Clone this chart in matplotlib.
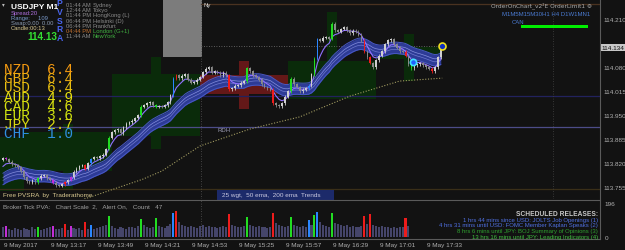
import matplotlib
matplotlib.use("Agg")
import matplotlib.pyplot as plt
import numpy as np
from matplotlib.patches import Rectangle

# ---------------- data ----------------
bar_minutes = 2
first_open = 113.829
closes = [
    113.833, 113.831, 113.823, 113.817, 113.814, 113.809, 113.798, 113.782, 113.771, 113.766,
    113.774, 113.768, 113.779, 113.785, 113.787, 113.779, 113.774, 113.766, 113.760, 113.758,
    113.763, 113.768, 113.774, 113.782, 113.796, 113.804, 113.812, 113.814, 113.804, 113.820,
    113.831, 113.836, 113.833, 113.839, 113.842, 113.858, 113.888, 113.904, 113.909, 113.912,
    113.901, 113.917, 113.926, 113.931, 113.934, 113.942, 113.950, 113.972, 113.977, 113.982,
    113.985, 113.977, 113.972, 113.974, 113.972, 113.977, 113.985, 114.004, 114.048, 114.058,
    114.050, 114.056, 114.061, 114.045, 114.037, 114.039, 114.045, 114.053, 114.066, 114.075,
    114.080, 114.064, 114.069, 114.064, 114.058, 114.064, 114.058, 114.020, 114.023, 114.029,
    114.031, 114.037, 114.042, 114.077, 114.069, 114.058, 114.053, 114.045, 114.034, 114.026,
    114.023, 114.018, 113.982, 113.977, 113.974, 113.982, 113.999, 114.015, 114.048, 114.034,
    114.026, 114.015, 114.018, 114.023, 114.029, 114.061, 114.102, 114.156, 114.151, 114.159,
    114.161, 114.156, 114.197, 114.180, 114.175, 114.183, 114.188, 114.180, 114.172, 114.178,
    114.175, 114.167, 114.151, 114.121, 114.107, 114.091, 114.080, 114.099, 114.110, 114.123,
    114.142, 114.153, 114.156, 114.142, 114.132, 114.123, 114.121, 114.110, 114.088, 114.077,
    114.085, 114.088, 114.091, 114.085, 114.080, 114.075, 114.069, 114.080, 114.107, 114.134,
]
# PVSRA special candles: index -> kind (g=bull climax, r=bear climax, b=bull rising, m=bear rising)
special = {1: 'm', 12: 'g', 17: 'm', 21: 'r', 23: 'm', 28: 'r', 30: 'b', 36: 'g', 47: 'g',
           52: 'g', 58: 'b', 59: 'r', 77: 'r', 83: 'g', 92: 'r', 98: 'g', 104: 'b', 106: 'g',
           107: 'b', 112: 'g', 123: 'r', 125: 'r', 137: 'r', 139: 'g', 146: 'r'}
volumes = [58, 64, 48, 40, 52, 45, 38, 50, 44, 42,
           55, 47, 60, 40, 46, 52, 58, 62, 48, 44,
           50, 75, 42, 66, 50, 45, 52, 40, 88, 46,
           70, 44, 50, 56, 62, 72, 120, 64, 50, 48,
           58, 52, 46, 60, 55, 50, 62, 105, 70, 58,
           52, 60, 112, 66, 56, 50, 62, 74, 140, 150,
           84, 70, 64, 58, 66, 60, 54, 62, 70, 58,
           64, 56, 60, 52, 58, 62, 56, 130, 70, 64,
           58, 60, 66, 118, 70, 62, 58, 64, 56, 60,
           52, 58, 136, 80, 70, 64, 58, 62, 115, 70,
           64, 58, 66, 60, 100, 72, 128, 145, 84, 70,
           64, 60, 140, 80, 74, 68, 62, 70, 58, 64,
           60, 58, 66, 120, 74, 132, 70, 64, 58, 62,
           56, 60, 54, 58, 52, 60, 56, 110, 62]
band_seed, fast_seed = 113.771, 113.800
ema200_t = [50, 61, 95, 108, 134, 168, 202, 236, 270, 299]
ema200_p = [113.716, 113.730, 113.776, 113.798, 113.866, 113.912, 113.945, 114.001, 114.042, 114.050]
# higher-timeframe (H1) candle overlay
htf_start = [-44, 14.3, 74.2, 134.1, 194.0, 254.0]
htf_end = [14.3, 74.2, 134.1, 194.0, 254.0, 299.0]
htf_open = [113.744, 113.798, 113.893, 114.058, 113.993, 114.102]
htf_close = [113.890, 113.904, 114.061, 114.007, 114.096, 114.134]
htf_high = [113.890, 113.926, 114.107, 114.096, 114.229, 114.169]
htf_low = [113.744, 113.750, 113.858, 113.966, 113.993, 114.042]
hlines = [(114.001, '#22225e'), (113.917, '#4c4c88'), (113.749, '#3a2f18')]
price_ticks = [114.210, 114.145, 114.080, 114.015, 113.950, 113.885, 113.820, 113.755]
current_price = 114.134
time_ticks = [0, 32, 64, 96, 128, 160, 192, 224, 256, 288]
time_labels = ["9 May 2017", "9 May 13:17", "9 May 13:49", "9 May 14:21", "9 May 14:53",
               "9 May 15:25", "9 May 15:57", "9 May 16:29", "9 May 17:01", "9 May 17:33"]
strength_ccy = ["NZD", "GBP", "USD", "AUD", "CAD", "EUR", "JPY", "CHF"]
strength_val = ["6.4", "6.4", "6.4", "4.9", "4.6", "3.6", "2.7", "1.0"]
strength_col = ["#f59a10", "#eeae10", "#e8c010", "#e6e010", "#d6e010", "#cce010", "#d8d810", "#2f8fe0"]
sessions = [("01:44 AM", "Sydney"), ("12:44 AM", "Tokyo"), ("01:44 PM", "HongKong (L)"),
            ("06:44 PM", "Helsinki (D)"), ("06:44 PM", "Frankfurt"), ("04:44 PM", "London (G+1)"),
            ("11:44 AM", "NewYork")]
releases = ["1 hrs 44 mins since USD: JOLTS Job Openings (1)",
            "4 hrs 31 mins until USD: FOMC Member Kaplan Speaks (2)",
            "8 hrs 6 mins until JPY: BOJ Summary of Opinions (3)",
            "13 hrs 16 mins until JPY: Leading Indicators (4)"]
release_col = ["#4f6fe0", "#4f6fe0", "#2fa02f", "#3fbf3f"]

# ---------------- style ----------------
BG = '#121212'
W, H = 625, 251
FONT = 'Liberation Sans'
kind_col = {'g': '#22dd22', 'r': '#ee1c1c', 'b': '#2a86ff', 'm': '#c22ed8'}

def fx(x):
    return x / W

def fy(y):
    return 1 - y / H

def ema(vals, span, seed):
    a = 2.0 / (span + 1)
    e = seed
    out = []
    for v in vals:
        e = a * v + (1 - a) * e
        out.append(e)
    return np.array(out)

n = len(closes)
t = np.arange(n) * bar_minutes
c = np.array(closes)
o = np.concatenate([[first_open], c[:-1]])

fig = plt.figure(figsize=(6.25, 2.51), dpi=100, facecolor=BG)
ax = fig.add_axes([0, 51 / H, 600 / W, 200 / H])
ax.set_facecolor(BG)
xlim = (-2.04, 406.4)
ax.set_xlim(*xlim)
ax.set_ylim(113.7226, 114.2643)
for s in ax.spines.values():
    s.set_visible(False)
ax.set_xticks([]); ax.set_yticks([])

# HTF candles
for ts, te, op, cl, hh, ll in zip(htf_start, htf_end, htf_open, htf_close, htf_high, htf_low):
    col = '#0a2b0a' if cl >= op else '#641818'
    ax.add_patch(Rectangle((ts, min(op, cl)), te - ts, abs(cl - op), color=col, lw=0, zorder=1))
    mid = (ts + te) / 2
    ax.add_patch(Rectangle((mid - 3.5, ll), 7, hh - ll, color=col, lw=0, zorder=1))

# gray session box
ax.add_patch(Rectangle((108.9, 114.107), 26.6, 0.2, color='#7c7c7c', lw=0, zorder=1.2))
for p, col in hlines:
    ax.axhline(p, color=col, lw=0.9, zorder=1.5)
ax.plot([135, 406], [114.251, 114.251], color='#4a3220', lw=0.9, zorder=1.5)
ax.plot([135, 298], [current_price + 0.003] * 2, color='#777777', lw=0.6, ls=(0, (1, 2)), zorder=1.5)
ax.axvline(134.8, color='#555555', lw=0.6, ls=(0, (1, 2)), zorder=1.5)
ax.axvline(374.4, color='#444444', lw=0.6, ls=(0, (1, 2)), zorder=1.5)

# 200 ema dotted
ax.plot(ema200_t, ema200_p, color='#a09a60', lw=0.8, ls=(0, (1, 1.5)), zorder=2)

# band
band = ema(closes, 20, band_seed)
fast = ema(closes, 5, fast_seed)
bw = 0.0155
ax.fill_between(t, band - bw, band + bw, color='#2d3b96', lw=0, zorder=2.2)
ax.plot(t, band + bw, color='#4858c4', lw=0.7, zorder=2.3)
ax.plot(t, band - bw, color='#4858c4', lw=0.7, zorder=2.3)
ax.plot(t, band + 0.004, color='#9aa2ee', lw=0.5, zorder=2.3, alpha=0.8)
ax.plot(t, band - 0.004, color='#7f88dd', lw=0.5, zorder=2.3, alpha=0.8)
ax.plot(t, fast, color='#9070ff', lw=0.8, zorder=2.4)

# candles
cols = []
for i in range(n):
    if i in special:
        cols.append(kind_col[special[i]])
    else:
        cols.append('#cfcfcf' if c[i] >= o[i] else '#8a8a8a')
hi = np.maximum(o, c) + 0.004
lo = np.minimum(o, c) - 0.004
ax.vlines(t, lo, hi, colors=cols, lw=0.6, zorder=3)
body = np.where(np.abs(c - o) < 0.0015, 0.0015, c - o)
ax.bar(t, body, bottom=o, width=1.1, color=cols, lw=0, zorder=3.1)

# markers
ax.plot([279], [114.094], 'o', ms=4.5, mfc='#2060ff', mec='#40e0ff', mew=1.2, zorder=4)
ax.plot([298.8], [114.137], 'o', ms=5, mfc='#1030c0', mec='#f0e020', mew=1.2, zorder=4)

# volume panel
vax = fig.add_axes([0, 11 / H, 600 / W, 39 / H])
vax.set_facecolor(BG)
vax.set_xlim(*xlim)
vax.set_ylim(-11.5, 213.3)
for s in vax.spines.values():
    s.set_visible(False)
vax.set_xticks([]); vax.set_yticks([])
nv = len(volumes)
vcols = [kind_col[special[i]] if i in special else '#45456a' for i in range(nv)]
vax.bar(t[:nv], volumes, width=1.4, color=vcols, lw=0, zorder=2)
vax.axvline(134.8, color='#555555', lw=0.6, ls=(0, (1, 2)), zorder=1)

# frame lines (figure pixel coords)
def fline(x0, y0, x1, y1, col='#5a5a5a', lw=0.8):
    fig.add_artist(plt.Line2D([fx(x0), fx(x1)], [fy(y0), fy(y1)], color=col, lw=lw))

fline(600, 0, 600, 240)
fline(0, 200.5, 600, 200.5)
fline(0, 240, 600, 240)

# right axis labels
for p in price_ticks:
    if abs(p - current_price) < 0.02:
        continue
    ax.text(1.005, (p - 113.7226) / (114.2643 - 113.7226), f"{p:.3f}", transform=ax.transAxes,
            color='#b0b0b0', fontsize=4.6, family=FONT, va='center', ha='left')
yb = (current_price - 113.7226) / (114.2643 - 113.7226)
ax.text(1.003, yb, f"{current_price:.3f}", transform=ax.transAxes, color='#101010', fontsize=4.6,
        family=FONT, va='center', ha='left',
        bbox=dict(boxstyle='square,pad=0.15', fc='#c8c8c8', ec='none'))
vax.text(1.008, 196, "196", transform=vax.get_yaxis_transform(), color='#b0b0b0', fontsize=4.6,
         family=FONT, va='center')
vax.text(1.008, 0, "0", transform=vax.get_yaxis_transform(), color='#b0b0b0', fontsize=4.6,
         family=FONT, va='center')

# time labels
for tt, lab in zip(time_ticks, time_labels):
    x = (tt - xlim[0]) / (xlim[1] - xlim[0]) * 600
    fig.text(fx(x + 1), fy(245.5), lab, color='#b0b0b0', fontsize=4.6, family=FONT, va='center')

# top-left info
fig.text(fx(2), fy(5), "\u25BE", color='#bbbbbb', fontsize=4, va='center')
fig.text(fx(11), fy(7.5), "USDJPY M1", color='white', fontsize=6.0, weight='bold', family=FONT, va='center')
fig.text(fx(11), fy(13.5), "Spread:20", color='#b070e0', fontsize=4.2, family=FONT, va='center')
fig.text(fx(11), fy(18.5), "Range:     109", color='#7a9acc', fontsize=4.2, family=FONT, va='center')
fig.text(fx(11), fy(23.5), "Swap:0.00  0.00", color='#8a9ab0', fontsize=4.2, family=FONT, va='center')
fig.text(fx(11), fy(28.5), "Candle:00:13", color='#d8c890', fontsize=4.2, family=FONT, va='center')
fig.text(fx(27), fy(37.5), "114.13", color='#33dd33', fontsize=7.2, weight='bold', family=FONT, va='center')
fig.text(fx(59.5), fy(21), "P\nV\nS\nR\nA", color='#4a66f0', fontsize=6.2, weight='bold',
         family=FONT, va='center', ha='center', linespacing=0.95)
for k, (tm, city) in enumerate(sessions):
    y = 5.5 + k * 5.2
    tcol = '#c07030' if city.startswith('London') else '#8a8a8a'
    ccol = '#40b040' if k >= 5 else '#8a8a8a'
    tx = fig.text(fx(66), fy(y), tm, color=tcol, fontsize=4.2, family=FONT, va='center')
    ax.annotate(city, xy=(1, 0.5), xycoords=tx, xytext=(1.2, 0), textcoords='offset points',
                color=ccol, fontsize=4.2, family=FONT, va='center', ha='left', annotation_clip=False)

fig.text(fx(203), fy(5), "Ny", color='#dddddd', fontsize=4.3, family=FONT, va='center')

# currency strength
for k, (cc, vv, col) in enumerate(zip(strength_ccy, strength_val, strength_col)):
    fig.text(fx(4), fy(70 + k * 9.2), cc + "  " + vv, color=col, fontsize=10.4,
             family='Liberation Mono', va='center')

# top right
fig.text(fx(592), fy(5.5), "OrderOnChart_v2\u00b2E OrderLimit1 \u2699", color='#aaaaaa', fontsize=4.2,
         family=['DejaVu Sans'], ha='right', va='center')
fig.text(fx(590), fy(14), "M1M5M15M30H1 H4 D1W1MN1", color='#4a7ad0', fontsize=4.3, family=FONT,
         ha='right', va='center')
fig.text(fx(512), fy(22.5), "CAN", color='#4a7ad0', fontsize=4.3, family=FONT, va='center')
fig.add_artist(Rectangle((fx(521), fy(28.5)), fx(67), 2.5 / H, color='#00ee00', lw=0))

fig.text(fx(217), fy(131), "RDH", color='#9a9ab0', fontsize=4.3, family=FONT, va='center')
fig.text(fx(3), fy(196), "Free PVSRA  by  Traderathome", color='#d8c890', fontsize=4.6, family=FONT, va='center')
fig.add_artist(Rectangle((fx(217), fy(201)), fx(117), 10 / H, color='#1c2a6a', lw=0))
fig.text(fx(222), fy(196), "25 wgt,  50 ema,  200 ema  Trends", color='#c8c8e0', fontsize=4.6,
         family=FONT, va='center')
fig.text(fx(3), fy(207), "Broker Tick PVA:   Chart Scale  2,   Alert On,   Count   47", color='#a0a0a0',
         fontsize=4.6, family=FONT, va='center')

fig.text(fx(598), fy(214.5), "SCHEDULED RELEASES:", color='#c8c8c8', fontsize=4.8, weight='bold',
         family=FONT, ha='right', va='center')
for k, (txt, col) in enumerate(zip(releases, release_col)):
    fig.text(fx(598), fy(220.5 + k * 5.5), txt, color=col, fontsize=4.3, family=FONT, ha='right', va='center')

fig.savefig("out.png", dpi=100, facecolor=BG)
